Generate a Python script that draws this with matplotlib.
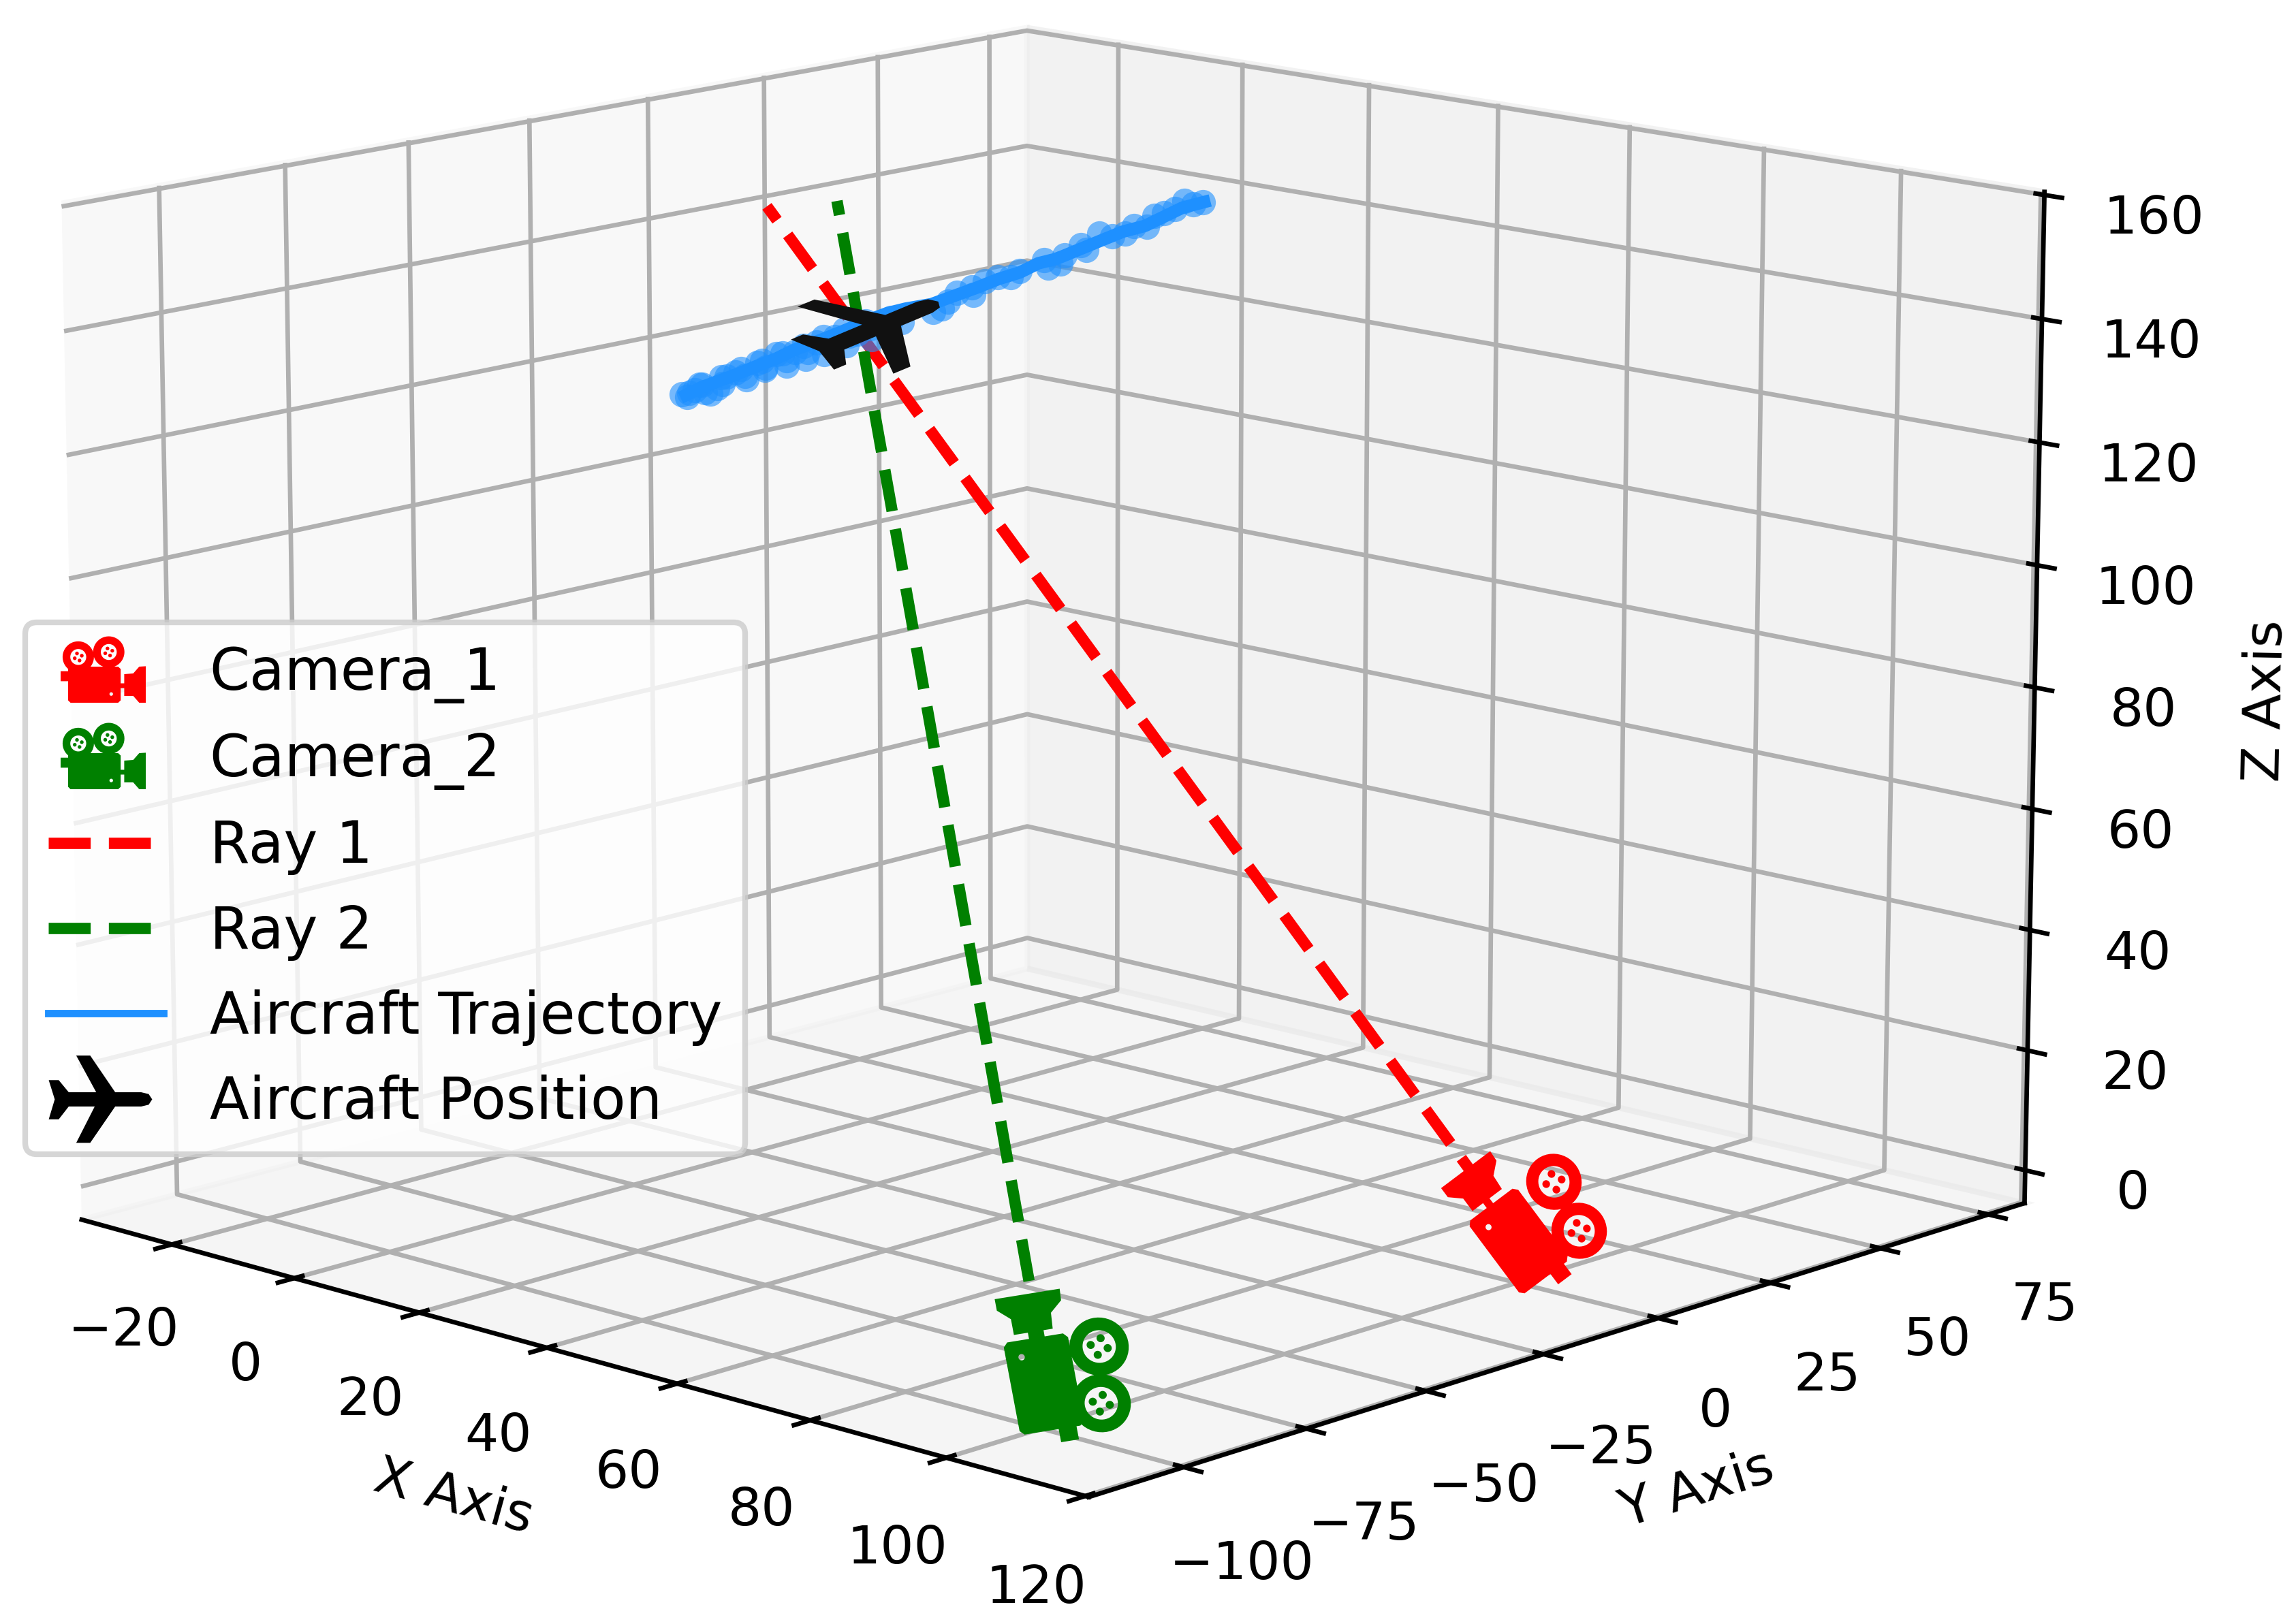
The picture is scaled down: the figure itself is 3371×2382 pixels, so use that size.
import numpy as np
import matplotlib
matplotlib.use("Agg")
import matplotlib.pyplot as plt
from matplotlib.lines import Line2D
from matplotlib.path import Path

# --- values ---
camera_1 = [98.1, 3.8, 0.0]
camera_2 = [97.9, -95.9, 0.0]
ray_2_start = [99.1, -97.0, -1.9]
ray_1_end = [-4.3, -15.0, 150.0]
ray_2_end = [-0.8, -4.8, 150.0]
aircraft = [-1.5, 0.8, 127.0]

traj_x = [-8.0, -8.4, -7.9, -7.4, -7.3, -6.6, -7.0, -6.5, -6.1, -6.0, -6.0, -5.3, -3.9, -1.1,
          -0.6, 0.2, 0.6, 1.6, 1.1, 2.5, 2.8, 3.1, 3.2, 4.9, 4.4, 3.9, 5.6]
traj_y = [-27.4, -23.5, -20.2, -17.0, -13.1, -10.2, -5.7, -2.4, 0.9, 4.9, 8.8, 11.9, 14.0, 15.8,
          19.9, 23.6, 28.0, 31.5, 36.2, 38.3, 42.8, 47.3, 52.1, 54.6, 59.5, 64.4, 66.9]
traj_z = [120.1, 120.7, 121.4, 122.1, 122.8, 123.6, 124.3, 125.0, 125.7, 126.4, 127.1, 127.9, 128.6, 129.6,
          130.4, 131.3, 132.2, 133.0, 133.7, 134.4, 135.3, 136.2, 137.0, 137.9, 138.6, 139.3, 140.2]

obs_x = [5.2, 4.4, 1.4, 3.0, 3.0, 2.1, 5.8, 2.7, 4.6, 3.2, -0.1, 4.2, 1.3, 2.5, 4.8, 0.7, 5.2, 1.1, 2.0, -0.4,
         -1.1, 2.6, -1.0, -1.2, 0.8, 2.3, 2.6, 0.9, -2.9, -7.0, -8.4, -8.4, -9.3, -4.3, -5.2, -8.3, -8.4, -3.8,
         -8.3, -4.2, -8.4, -2.0, -6.1, -1.5, -6.0, -0.1, -4.8, 0.3, -2.4, 2.6,
         -9.0, -6.8, -9.2, -7.0, -8.8, -6.4, -8.6, -6.2, -8.2, -5.8, -8.0, -5.4, -7.6, -5.0, -7.4, -4.8, -7.0, -4.4, -6.6, -4.0]
obs_y = [67.1, 66.2, 68.4, 64.0, 61.5, 60.6, 53.8, 55.2, 50.6, 49.7, 51.4, 42.5, 45.3, 40.0, 33.2, 38.0, 35.4, 32.1, 28.9, 29.3,
         27.4, 19.9, 24.5, 21.5, 16.8, 11.6, 13.1, 6.7, 9.4, -28.4, -26.2, -25.1, -22.3, -27.2, -24.5, -18.5, -16.4, -20.2,
         -11.9, -15.7, -7.7, -14.0, -6.9, -10.7, -2.3, -8.6, 0.0, -4.4, 1.6, -2.0,
         -27.0, -25.0, -23.0, -21.0, -19.0, -17.0, -15.0, -13.0, -11.0, -9.0, -7.0, -5.0, -3.0, -1.0, 1.0, 3.0, 5.0, 7.0, 9.0, 11.0]
obs_z = [140.1, 139.7, 139.4, 139.0, 138.6, 138.2, 138.0, 137.4, 137.1, 136.6, 136.1, 135.6, 135.4, 134.7, 134.1, 133.9, 134.6, 133.0, 132.7, 132.2,
         131.6, 131.2, 131.1, 130.6, 130.2, 129.6, 130.0, 128.4, 128.0, 120.1, 120.2, 120.4, 120.7, 121.0, 121.3, 121.6, 122.0, 122.4,
         122.8, 123.1, 123.6, 124.0, 124.3, 124.7, 125.1, 125.4, 125.9, 126.3, 126.7, 127.3,
         120.0, 120.4, 120.8, 121.1, 121.5, 121.9, 122.2, 122.6, 123.0, 123.3, 123.7, 124.1, 124.4, 124.8, 125.2, 125.6, 125.9, 126.3, 126.7, 127.0]

x_ticks = [-20, 0, 20, 40, 60, 80, 100, 120]
y_ticks = [-100, -75, -50, -25, 0, 25, 50, 75]
z_ticks = [0, 20, 40, 60, 80, 100, 120, 140, 160]

W, H = 3371, 2382
DPI = 600
plt.rcParams['font.size'] = 9.3


# --- marker icons (in pixels) ---
def ring(cx, cy, r, ccw=True):
    t = np.linspace(0, 2*np.pi, 49)[:-1]
    if not ccw:
        t = t[::-1]
    return np.column_stack([cx+r*np.cos(t), cy+r*np.sin(t)])


def poly(pts):
    # force counter clockwise so the holes cut out under non-zero fill
    pts = np.array(pts, dtype=float)
    x, y = pts[:, 0], pts[:, 1]
    if np.sum(x*np.roll(y, -1)-np.roll(x, -1)*y) < 0:
        pts = pts[::-1]
    return pts


def camera_parts(reels, r=23, hole=11.7, spoke=5.5, dot=2.7):
    parts = [
        poly([(-48, 4.5), (22, 4.5), (25.7, 1), (25.7, -45), (22, -48.5), (-48, -48.5), (-51.5, -45), (-51.5, 1)]),
        poly([(30.9, -6.5), (44.1, -5.5), (52.9, 4.5), (62.5, 5.1), (62.5, -48.5), (52.9, -48.5), (44.1, -38.5), (30.9, -38.5)]),
        poly([(-62.5, -2.2), (-51.5, -2.2), (-51.5, -16.9), (-62.5, -16.9)]),
        poly([(25.7, -20), (30.9, -20), (30.9, -27), (25.7, -27)]),
        ring(11.8, -35.7, 2.6, ccw=False),
    ]
    for cx, cy in reels:
        parts.append(ring(cx, cy, r))
        parts.append(ring(cx, cy, hole, ccw=False))
        for a in np.radians([20, 110, 200, 290]):
            parts.append(ring(cx+spoke*np.cos(a), cy+spoke*np.sin(a), dot))
    return parts


def plane_parts():
    pts = [(135, 1350), (115, 1316), (95, 1316), (107, 1370), (95, 1426), (115, 1426), (135, 1390), (187, 1390),
           (150, 1492), (178, 1492), (228, 1390), (280, 1390), (295, 1385), (302, 1370), (295, 1355), (280, 1350),
           (228, 1350), (178, 1247), (150, 1247), (190, 1350)]
    pts = np.array(pts, dtype=float)
    pts[:, 0] = (pts[:, 0]-198.5)/1.363
    pts[:, 1] = -(pts[:, 1]-1370)/1.912
    return [poly(pts)]


def make_marker(parts, A=None, origin=(0, 0), shift=(0, 0)):
    verts, codes = [], []
    for p in parts:
        q = p-np.array(origin)
        if A is not None:
            q = q @ np.array(A).T
        q = q+np.array(shift)
        verts += list(q)+[q[0]]
        codes += [Path.MOVETO]+[Path.LINETO]*(len(q)-1)+[Path.CLOSEPOLY]
    path = Path(np.array(verts), codes)
    # matplotlib rescales custom markers to fit markersize
    ms = 2*np.abs(path.vertices).max()*72/DPI
    return path, ms


red_cam = camera_parts([(-36.9, 25.7), (9.2, 33.6)], r=24, hole=13.5, spoke=7, dot=3.3)
green_cam = camera_parts([(-36.1, 21.1), (10.3, 28.0)], r=24, hole=13.5, spoke=7, dot=3.3)
key_cam = camera_parts([(-36.6, 18.7), (8.2, 26.0)])
cam_1_icon, cam_1_ms = make_marker(red_cam, [[-1.035, 1.346], [1.386, 1.013]], (-12.9, -22.0), (-5, 0))
cam_2_icon, cam_2_ms = make_marker(green_cam, [[-0.331, 1.78], [1.753, 0.288]], (-12.9, -22.0), (-6, 0))
plane_icon, plane_ms = make_marker(plane_parts(), [[1.22, -1.10], [0.51, 0.768]], ((164-198.5)/1.363, 0), (-8.5, -4))
cam_key, cam_key_ms = make_marker(key_cam, shift=(-4, 0))
plane_key, plane_key_ms = make_marker(plane_parts(), shift=(-8, 0))

fig = plt.figure(figsize=(W/DPI, H/DPI), dpi=DPI)
S = 3168
cx, cy = 1507, 1085
ax = fig.add_axes([(cx-S/2)/W, 1-(cy+S/2)/H, S/W, S/H], projection='3d', computed_zorder=False)
ax.view_init(elev=13.2, azim=-46.8)

ax.plot(*zip(camera_1, ray_1_end), color='red', ls='--', lw=2, zorder=2)
ax.plot(*zip(ray_2_start, ray_2_end), color='green', ls='--', lw=2, zorder=2)
ax.plot(traj_x, traj_y, traj_z, color='dodgerblue', lw=2.2, zorder=3)
ax.scatter(obs_x, obs_y, obs_z, s=20, color='dodgerblue', alpha=0.6, linewidths=0, depthshade=False, zorder=3)
ax.plot(*[[v] for v in camera_1], marker=cam_1_icon, ms=cam_1_ms, color='red', mew=0, ls='none', zorder=4)
ax.plot(*[[v] for v in camera_2], marker=cam_2_icon, ms=cam_2_ms, color='green', mew=0, ls='none', zorder=4)
ax.plot(*[[v] for v in aircraft], marker=plane_icon, ms=plane_ms, color='#111111', mew=0, ls='none', zorder=4.5)

ax.set_xlim(-35, 120.5)
ax.set_ylim(-119, 83.5)
ax.set_zlim(-5.5, 160.5)
ax.set_xticks(x_ticks)
ax.set_yticks(y_ticks)
ax.set_zticks(z_ticks)
ax.xaxis.set_tick_params(pad=1.5)
ax.yaxis.set_tick_params(pad=2.5)
ax.zaxis.set_tick_params(pad=3)
ax.set_xlabel('X Axis', labelpad=0.5)
ax.set_ylabel('Y Axis', labelpad=1)
ax.set_zlabel('Z Axis', labelpad=2.5)

handles = [
    Line2D([], [], marker=cam_key, ms=cam_key_ms, color='red', mew=0, ls='none', label='Camera_1'),
    Line2D([], [], marker=cam_key, ms=cam_key_ms, color='green', mew=0, ls='none', label='Camera_2'),
    Line2D([], [], color='red', ls='--', lw=2, label='Ray 1'),
    Line2D([], [], color='green', ls='--', lw=2, label='Ray 2'),
    Line2D([], [], color='dodgerblue', lw=1.3, label='Aircraft Trajectory'),
    Line2D([], [], marker=plane_key, ms=plane_key_ms, color='black', mew=0, ls='none', label='Aircraft Position'),
]
ax.legend(handles=handles, fontsize=10.15, loc='lower left', bbox_to_anchor=(37/W, 1-1695/H),
          bbox_transform=fig.transFigure, borderaxespad=0)

fig.savefig('out.png', dpi=DPI)
